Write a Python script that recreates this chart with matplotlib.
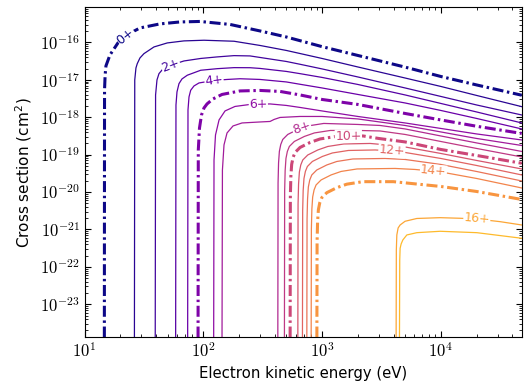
import matplotlib
matplotlib.use("Agg")
import matplotlib.pyplot as plt
from matplotlib.ticker import FixedLocator, FuncFormatter, LogLocator, NullFormatter
import numpy as np

plt.rcParams['mathtext.fontset'] = 'cm'
plt.rcParams['font.family'] = 'DejaVu Sans'

# electron-impact ionisation cross sections, one curve per charge state
# energy in eV, cross section in cm^2
E0 = [14.68, 14.74, 14.91, 15.15, 16.37, 19.11, 22.76, 29.29, 43.18, 63.65, 93.8, 167.9, 300, 500, 1000, 2000, 5000, 1e4, 2e4, 4.8e4]
s0 = [1e-25, 5.4e-18, 1.35e-17, 2.36e-17, 4.63e-17, 9.7e-17, 1.59e-16, 2.44e-16, 3.13e-16, 3.53e-16, 3.64e-16, 3.03e-16, 2.03e-16, 1.40e-16, 7.72e-17, 4.49e-17, 2.19e-17, 1.23e-17, 7.31e-18, 3.88e-18]

E1 = [26.28, 26.48, 27.10, 27.80, 29.29, 31.65, 38.44, 49.74, 68.8, 101.4, 181.3, 300, 500, 1000, 2000, 5000, 1e4, 2e4, 4.8e4]
s1 = [1e-25, 9.94e-18, 2.08e-17, 2.71e-17, 3.85e-17, 5.02e-17, 7.58e-17, 9.7e-17, 1.10e-16, 1.145e-16, 1.077e-16, 8.31e-17, 6.11e-17, 3.73e-17, 2.21e-17, 1.12e-17, 6.66e-18, 3.83e-18, 1.92e-18]

E2 = [39.34, 39.65, 40.74, 42.35, 45.76, 52.42, 68.8, 95.1, 130.5, 181.3, 247.4, 300, 500, 652, 1000, 2000, 5000, 1e4, 2e4, 4.8e4]
s2 = [1e-25, 3.95e-18, 9.94e-18, 1.465e-17, 1.96e-17, 2.43e-17, 3.20e-17, 3.73e-17, 4.10e-17, 4.44e-17, 4.36e-17, 3.97e-17, 3.10e-17, 2.61e-17, 1.96e-17, 1.195e-17, 6.07e-18, 3.60e-18, 2.13e-18, 1.15e-18]

E3 = [58.44, 58.88, 60.04, 62.41, 66.15, 73.34, 95.1, 131.2, 181.3, 247.4, 300, 500, 652, 1000, 2000, 5000, 1e4, 2e4, 4.8e4]
s3 = [1e-25, 2.13e-18, 4.75e-18, 7.91e-18, 1.057e-17, 1.33e-17, 1.805e-17, 1.99e-17, 2.12e-17, 2.11e-17, 2.02e-17, 1.68e-17, 1.465e-17, 1.16e-17, 7.53e-18, 3.95e-18, 2.34e-18, 1.386e-18, 7.04e-19]

E4 = [73.76, 74.33, 75.79, 78.33, 83.5, 92.0, 123.1, 159.3, 203.8, 300, 500, 652, 1000, 2000, 5000, 1e4, 2e4, 4.8e4]
s4 = [1e-25, 1.57e-18, 3.49e-18, 5.27e-18, 6.87e-18, 8.26e-18, 9.64e-18, 1.025e-17, 1.07e-17, 1.025e-17, 8.79e-18, 7.62e-18, 6.07e-18, 4.07e-18, 2.41e-18, 1.52e-18, 9.29e-19, 4.87e-19]

E5 = [90.24, 90.77, 92.9, 96.6, 101.4, 107.5, 120.7, 143.8, 203.8, 300, 442.9, 652, 1000, 2000, 5000, 1e4, 2e4, 4.8e4]
s5 = [1e-25, 1.335e-19, 5.17e-19, 1.15e-18, 1.77e-18, 2.27e-18, 3.09e-18, 4.07e-18, 5.05e-18, 5.21e-18, 4.90e-18, 3.95e-18, 2.99e-18, 2.20e-18, 1.263e-18, 8.47e-19, 5.75e-19, 3.69e-19]

E6 = [122.1, 123.1, 126.7, 135.7, 152.4, 184.9, 247.4, 364.7, 500, 652, 1000, 2000, 5000, 1e4, 2e4, 4.8e4]
s6 = [1e-25, 7.21e-20, 3.36e-19, 8.47e-19, 1.474e-18, 1.945e-18, 2.20e-18, 2.27e-18, 2.07e-18, 1.83e-18, 1.474e-18, 1.05e-18, 7.04e-19, 5.02e-19, 3.58e-19, 2.47e-19]

E7 = [143.5, 144.9, 149.4, 158.4, 177.9, 211.9, 300, 364.7, 394.2, 442.9, 652, 1000, 2000, 5000, 1e4, 2e4, 4.8e4]
s7 = [1e-25, 3.90e-20, 1.82e-19, 3.80e-19, 5.85e-19, 7.04e-19, 7.48e-19, 7.72e-19, 8.73e-19, 9.88e-19, 1.05e-18, 1.05e-18, 9.01e-19, 6.03e-19, 4.05e-19, 2.71e-19, 1.76e-19]

E8 = [423.6, 426.1, 430.2, 437.0, 449.0, 466.7, 514.1, 624.4, 757.9, 1034, 2000, 3080, 5000, 1e4, 2e4, 4.8e4]
s8 = [1e-25, 1.75e-20, 6.0e-20, 1.218e-19, 1.874e-19, 2.55e-19, 3.47e-19, 4.72e-19, 5.85e-19, 6.83e-19, 6.42e-19, 6.03e-19, 4.87e-19, 3.16e-19, 2.06e-19, 1.218e-19]

E9 = [481.4, 484.2, 488.9, 496.6, 510.2, 530.4, 584.4, 709.6, 861.7, 1175, 2000, 3080, 5000, 1e4, 2e4, 4.8e4]
s9 = [1e-25, 1.104e-20, 3.78e-20, 7.92e-20, 1.219e-19, 1.657e-19, 2.255e-19, 3.07e-19, 3.81e-19, 4.44e-19, 4.44e-19, 4.30e-19, 3.47e-19, 2.25e-19, 1.465e-19, 8.68e-20]

E10 = [537.7, 540.8, 546.1, 554.6, 569.9, 592.4, 652.8, 792.6, 962.5, 1313, 2215, 3000, 5000, 1e4, 2e4, 4.8e4]
s10 = [1e-25, 7.63e-21, 2.62e-20, 5.47e-20, 8.43e-20, 1.146e-19, 1.559e-19, 2.12e-19, 2.63e-19, 3.07e-19, 3.16e-19, 2.71e-19, 2.19e-19, 1.377e-19, 9.52e-20, 5.89e-20]

E11 = [624.4, 628.0, 634.1, 644.1, 661.8, 688.0, 758.0, 920.4, 1118, 1524, 2538, 3963, 5000, 1e4, 2e4, 4.8e4]
s11 = [1e-25, 4.80e-21, 1.646e-20, 3.44e-20, 5.31e-20, 7.21e-20, 9.81e-20, 1.335e-19, 1.656e-19, 1.932e-19, 1.993e-19, 1.76e-19, 1.606e-19, 1.077e-19, 7.0e-20, 4.15e-20]

E12 = [682.7, 686.7, 693.3, 704.2, 723.6, 752.2, 828.8, 1006, 1222, 1666, 2796, 3963, 5000, 1e4, 2e4, 4.8e4]
s12 = [1e-25, 3.22e-21, 1.103e-20, 2.31e-20, 3.56e-20, 4.83e-20, 6.58e-20, 8.95e-20, 1.110e-19, 1.295e-19, 1.335e-19, 1.256e-19, 1.145e-19, 7.91e-20, 5.14e-20, 2.87e-20]

E13 = [743.2, 747.5, 754.8, 766.6, 787.7, 818.9, 902.2, 1095, 1330, 1814, 3395, 5000, 1e4, 2e4, 4.8e4]
s13 = [1e-25, 1.908e-21, 6.53e-21, 1.368e-20, 2.106e-20, 2.86e-20, 3.89e-20, 5.30e-20, 6.57e-20, 7.67e-20, 7.91e-20, 7.44e-20, 5.47e-20, 3.55e-20, 1.98e-20]

E14 = [808.2, 812.9, 820.8, 833.7, 856.6, 890.5, 981.2, 1191, 1447, 1973, 4121, 6075, 1e4, 2e4, 4.8e4]
s14 = [1e-25, 1.032e-21, 3.54e-21, 7.40e-21, 1.140e-20, 1.549e-20, 2.107e-20, 2.87e-20, 3.56e-20, 4.15e-20, 4.28e-20, 4.02e-20, 3.45e-20, 2.31e-20, 1.287e-20]

E15 = [902.8, 908.0, 916.9, 931.2, 956.9, 994.7, 1096, 1331, 1616, 2204, 3986, 1e4, 2e4, 4.8e4]
s15 = [1e-25, 4.72e-22, 1.616e-21, 3.38e-21, 5.21e-21, 7.08e-21, 9.63e-21, 1.311e-20, 1.626e-20, 1.897e-20, 1.897e-20, 1.412e-20, 1.037e-20, 6.34e-21]

E16 = [4195, 4220, 4261, 4369, 4542, 5000, 6278, 9865, 14540, 2e4, 31600, 4.8e4]
s16 = [1e-25, 2.83e-22, 7.13e-22, 1.097e-21, 1.319e-21, 1.657e-21, 1.968e-21, 2.068e-21, 1.993e-21, 1.909e-21, 1.616e-21, 1.319e-21]

E17 = [4473, 4508, 4542, 4632, 4786, 5172, 6278, 9865, 2.011e4, 4.8e4]
s17 = [1e-25, 1.53e-22, 3.14e-22, 4.10e-22, 5.24e-22, 7.13e-22, 8.21e-22, 8.95e-22, 8.21e-22, 5.82e-22]

energies = [E0, E1, E2, E3, E4, E5, E6, E7, E8, E9, E10, E11, E12, E13, E14, E15, E16, E17]
sigmas = [s0, s1, s2, s3, s4, s5, s6, s7, s8, s9, s10, s11, s12, s13, s14, s15, s16, s17]
charges = list(range(18))

# where the inline labels sit (energy along each labelled curve)
label_q = [0, 2, 4, 6, 8, 10, 12, 14, 16]
label_E = [22.2, 53.1, 123.1, 290.7, 674.5, 1666, 3866, 8664, 20110]

xticks = [1e1, 1e2, 1e3, 1e4]
yticks = [1e-23, 1e-22, 1e-21, 1e-20, 1e-19, 1e-18, 1e-17, 1e-16]

fig = plt.figure(figsize=(5.25, 3.84), dpi=100)
ax = fig.add_axes([0.161, 0.1216, 0.8328, 0.8594])

for q, E, s in zip(charges, energies, sigmas):
    col = plt.cm.plasma(q / 20)
    if q % 5 == 0:
        ax.plot(E, s, color=col, lw=2.2, linestyle=(0, (3.6, 1.2, 0.8, 1.2)))
    else:
        ax.plot(E, s, color=col, lw=0.9)

ax.set_xscale('log')
ax.set_yscale('log')
ax.set_xlim(10, 4.8e4)
ax.set_ylim(1.31e-24, 8.7e-16)

# powers of ten in computer modern, like the original
pow10 = FuncFormatter(lambda v, p: "$10^{%d}$" % int(round(np.log10(v))))
ax.xaxis.set_major_locator(FixedLocator(xticks))
ax.yaxis.set_major_locator(FixedLocator(yticks))
ax.xaxis.set_major_formatter(pow10)
ax.yaxis.set_major_formatter(pow10)
for axis in (ax.xaxis, ax.yaxis):
    axis.set_minor_locator(LogLocator(base=10, subs=np.arange(2, 10), numticks=30))
    axis.set_minor_formatter(NullFormatter())

# inline labels, rotated along the curve
for q, el in zip(label_q, label_E):
    lx = np.log10(energies[q])
    ly = np.log10(sigmas[q])
    ypos = 10 ** np.interp(np.log10(el), lx, ly)
    e1, e2 = el / 1.05, el * 1.05
    y1 = 10 ** np.interp(np.log10(e1), lx, ly)
    y2 = 10 ** np.interp(np.log10(e2), lx, ly)
    p1 = ax.transData.transform((e1, y1))
    p2 = ax.transData.transform((e2, y2))
    ang = np.degrees(np.arctan2(p2[1] - p1[1], p2[0] - p1[0]))
    ax.text(el, ypos, f"{q}+", color=plt.cm.plasma(q / 20), fontsize=9,
            rotation=ang, rotation_mode='anchor', ha='center', va='center',
            bbox=dict(fc='white', ec='none', pad=0.3), zorder=4)

ax.tick_params(which='both', direction='in', top=True, right=True, labelsize=12)
ax.tick_params(which='major', length=4)
ax.tick_params(which='minor', length=2)
ax.set_xlabel('Electron kinetic energy (eV)', fontsize=10.7)
ax.set_ylabel('Cross section (cm$^\\mathregular{2}$)', fontsize=11)

fig.savefig('out.png', dpi=100)
